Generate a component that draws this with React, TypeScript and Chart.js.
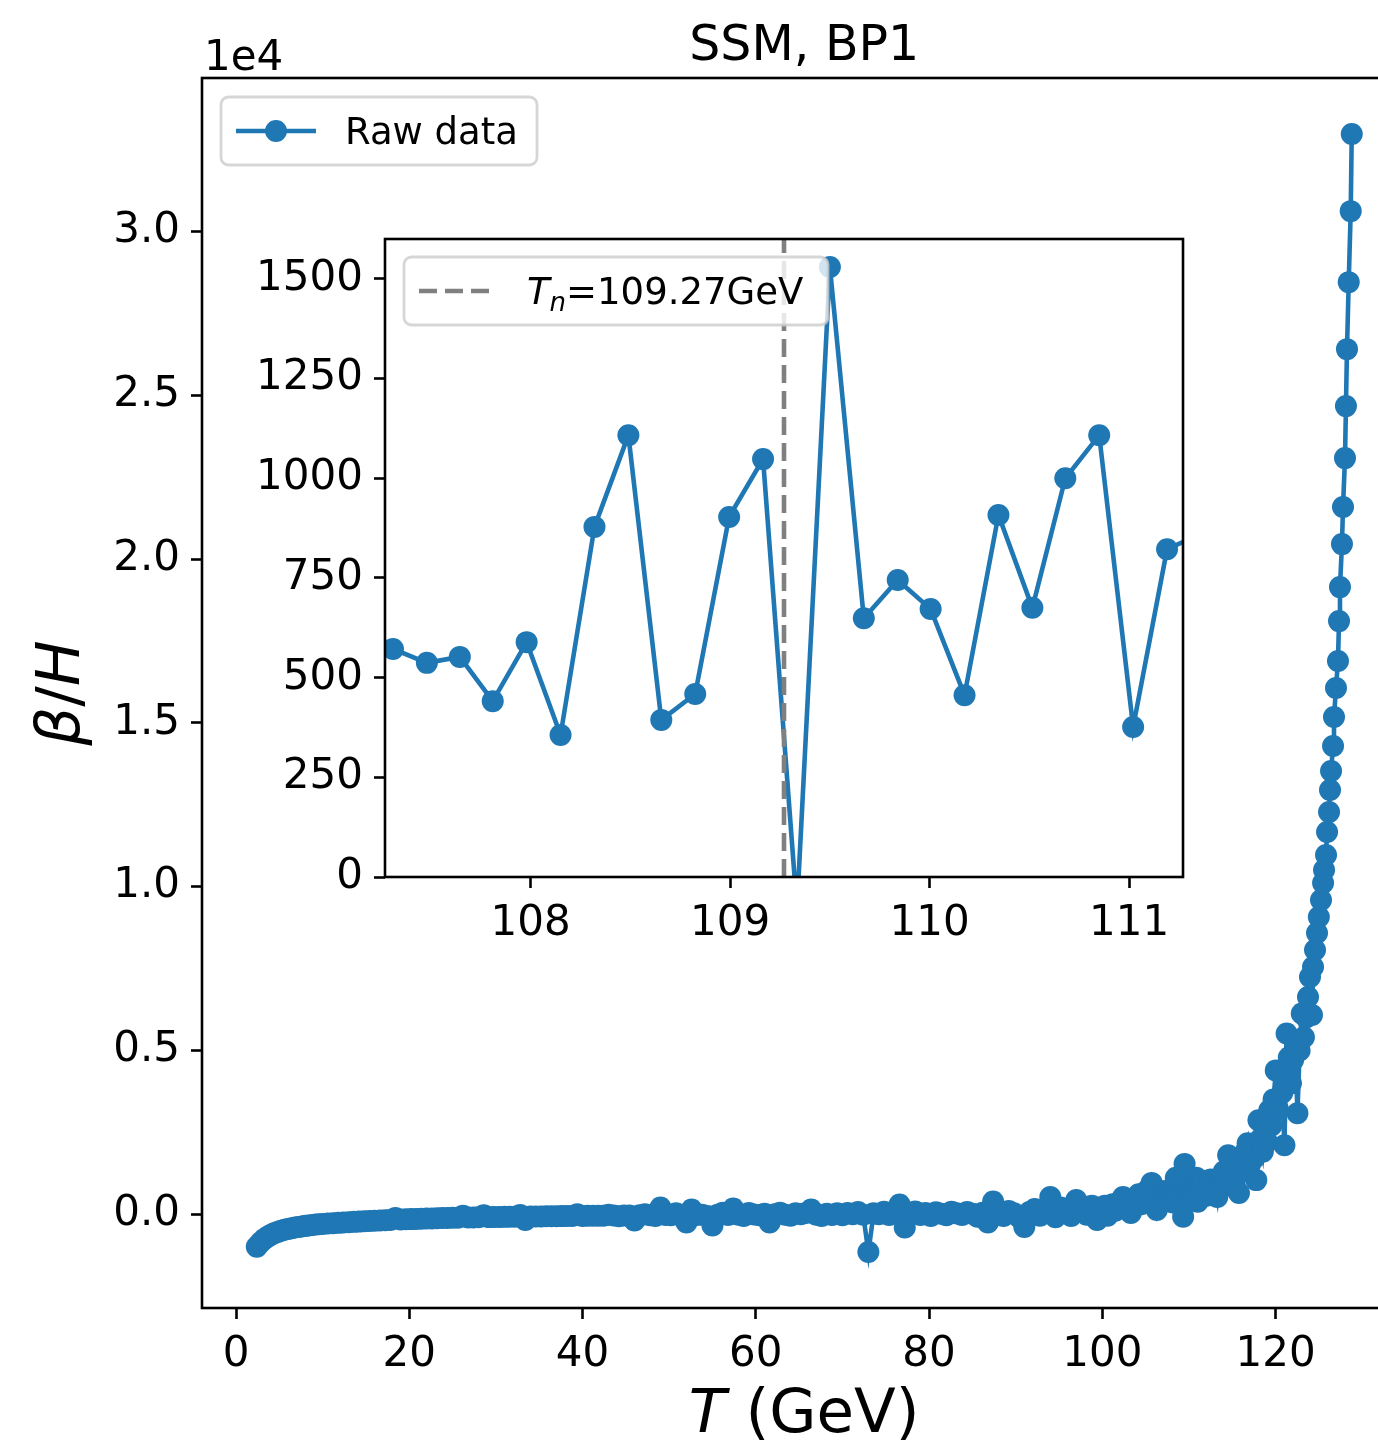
import React, { useEffect, useRef } from "react";
import { Chart, registerables } from "chart.js";

Chart.register(...registerables);

// ---------------- data ----------------
const chartTitle = "SSM, BP1";
const seriesLabel = "Raw data";
const Tn = 109.27;

// low-temperature branch
const tempsRise = [2.4, 2.8, 3.2, 3.6, 4.0, 4.4, 4.8, 5.2, 5.6, 6.0, 6.4, 6.8, 7.2, 7.6, 8.0, 8.4, 8.8, 9.2, 9.6, 10.0];
const betaRise = [-1000, -880, -780, -705, -640, -590, -548, -512, -480, -455, -432, -412, -394, -378, -362, -348, -335, -323, -312, -302];

// plateau
const tempsPlateau = [
  10.6, 11.2, 11.8, 12.4, 13.0, 13.6, 14.2, 14.8, 15.4, 16.0,
  16.6, 17.2, 17.8, 18.4, 19.0, 19.6, 20.2, 20.8, 21.4, 22.0,
  22.6, 23.2, 23.8, 24.4, 25.0, 25.6, 26.2, 26.8, 27.4, 28.0,
  28.6, 29.2, 29.8, 30.4, 31.0, 31.6, 32.2, 32.8, 33.4, 34.0,
  34.6, 35.2, 35.8, 36.4, 37.0, 37.6, 38.2, 38.8, 39.4, 40.0,
  40.6, 41.2, 41.8, 42.4, 43.0, 43.6, 44.2, 44.8, 45.4, 46.0,
  46.6, 47.2, 47.8, 48.4, 49.0, 49.6, 50.2, 50.8, 51.4, 52.0,
  52.6, 53.2, 53.8, 54.4, 55.0, 55.6, 56.2, 56.8, 57.4, 58.0,
  58.6, 59.2, 59.8, 60.4, 61.0, 61.6, 62.2, 62.8, 63.4, 64.0,
  64.6, 65.2, 65.8, 66.4, 67.0, 67.6, 68.2, 68.8, 69.4, 70.0,
  70.6, 71.2, 71.8, 72.4, 73.0, 73.6, 74.2, 74.8, 75.4, 76.0,
  76.6, 77.2, 77.8, 78.4, 79.0, 79.6, 80.2, 80.8, 81.4, 82.0,
  82.6, 83.2, 83.8, 84.4, 85.0, 85.6, 86.2, 86.8, 87.4, 88.0,
  88.6, 89.2, 89.8, 90.4, 91.0, 91.6, 92.2, 92.8, 93.4, 94.0,
  94.6, 95.2, 95.8, 96.4, 97.0, 97.6, 98.2, 98.8, 99.4,
];
const betaPlateau = [
  -290, -280, -270, -258, -250, -240, -232, -222, -215, -206,
  -198, -190, -184, -120, -170, -162, -156, -150, -146, -140,
  -134, -128, -124, -120, -116, -112, -50, -106, -103, -100,
  -40, -95, -92, -90, -87, -85, -82, -30, -180, -78,
  -75, -73, -70, -68, -66, -64, -62, -60, -10, -58,
  -56, -54, -52, -50, -20, -48, -70, -44, -42, -198,
  -40, -10, -38, -60, 198, -30, -35, 20, -50, -259,
  137, -30, -20, -60, -350, -25, 40, -30, 167, -20,
  -60, 30, -15, -40, 10, -259, -10, 40, -20, -50,
  20, -10, 30, 137, -20, -60, 10, -30, 20, -40,
  30, -10, 60, -20, -1163, 20, -10, 70, -30, 40,
  289, -411, 20, 80, -30, 30, -60, 50, 10, -40,
  70, 20, -30, 60, 10, -80, 40, -259, 380, 30,
  -60, 90, 20, -100, -396, 60, 150, -50, 100, 518,
  -100, 200, 50, -60, 426, 120, -20, 250, -183,
];

// approach to the nucleation region
const tempsApproach = [100.0, 100.3, 100.6, 100.9, 101.2, 101.5, 101.8, 102.1, 102.4, 102.7, 103.0, 103.3, 103.6, 103.9, 104.2, 104.5, 104.8, 105.1, 105.4, 105.7, 106.0, 106.3, 106.6, 106.9, 107.14];
const betaApproach = [80, 250, -50, 150, 300, 100, 200, 400, 518, 250, 150, 30, 200, 350, 600, 300, 450, 700, 500, 950, 600, 122, 500, 700, 650];

// around Tn (the inset window)
const tempsNucleation = [107.31, 107.48, 107.645, 107.81, 107.98, 108.15, 108.32, 108.49, 108.655, 108.825, 108.995, 109.165, 109.335, 109.5, 109.67, 109.84, 110.005, 110.175, 110.345, 110.515, 110.68, 110.85, 111.02, 111.19, 111.36];
const betaNucleation = [572, 537, 552, 441, 589, 356, 878, 1108, 394, 459, 903, 1048, -80, 1530, 649, 745, 672, 456, 908, 675, 1000, 1108, 376, 822, 860];

// noisy growth
const tempsGrowth = [
  111.53, 111.78, 112.03, 112.28, 112.53, 112.78, 113.03, 113.28, 113.53, 113.78,
  114.03, 114.28, 114.53, 114.78, 115.03, 115.28, 115.53, 115.78, 116.03, 116.28,
  116.53, 116.78, 117.03, 117.28, 117.53, 117.78, 118.03, 118.28, 118.53, 118.78,
  119.03, 119.28, 119.53, 119.78, 120.03, 120.28, 120.53, 120.78, 121.03, 121.28,
  121.53, 121.78, 122.03, 122.28, 122.53, 122.78, 123.03, 123.28, 123.53,
];
const betaGrowth = [
  700, 1000, 560, 820, 1050, 650, 900, 518, 1100, 800,
  1300, 950, 1797, 1100, 1400, 900, 1500, 639, 1700, 1300,
  1900, 2162, 1500, 2000, 1700, 1035, 2862, 2300, 1900, 2600,
  2200, 3167, 2700, 3500, 4385, 3200, 4324, 3700, 2101, 5512,
  4781, 3989, 4700, 5200, 3075, 4994, 6120, 5400, 6000,
];

// steep rise
const tempsSteep = [
  123.75, 123.98, 124.21, 124.33, 124.56, 124.79, 125.0, 125.25, 125.49, 125.60,
  125.83, 125.95, 126.18, 126.29, 126.41, 126.64, 126.75, 126.98, 127.21, 127.33,
  127.44, 127.67, 127.79, 128.02, 128.13, 128.25, 128.45, 128.68, 128.80,
];
const betaSteep = [
  6625, 7236, 6075, 7541, 8060, 8579, 9067, 9586, 10105, 10502,
  10960, 11662, 12273, 12945, 13525, 14288, 15173, 16059, 16883, 18104,
  19142, 20455, 21585, 23081, 24668, 26408, 28454, 30622, 32980,
];

const temps = [...tempsRise, ...tempsPlateau, ...tempsApproach, ...tempsNucleation, ...tempsGrowth, ...tempsSteep];
const betaH = [...betaRise, ...betaPlateau, ...betaApproach, ...betaNucleation, ...betaGrowth, ...betaSteep];

// axes
const mainXTicks = [0, 20, 40, 60, 80, 100, 120];
const mainYTicks = [0, 5000, 10000, 15000, 20000, 25000, 30000];
const mainXRange = [-3.925, 135.12];
const mainYRange = [-2870, 34687];
const insetXTicks = [108, 109, 110, 111];
const insetYTicks = [0, 250, 500, 750, 1000, 1250, 1500];
const insetXRange = [Tn - 2, Tn + 2];
const insetYRange = [0, 1600];

// ---------------- styling ----------------
const FONT = "'DejaVu Sans', 'Liberation Sans', sans-serif";
const BLUE = "#1f77b4";
const GRAY = "#808080";
const TICK_SIZE = 42;
const LEGEND_SIZE = 37;
const TITLE_SIZE = 49;
const LABEL_SIZE = 61;
const LINE_W = 4.6;
const MARKER_R = 11;
const SPINE_W = 2.6;

const MAIN_W = 1440;
const MAIN_H = 1441;
const MAIN_AREA = { left: 202, top: 78, right: 1406.5, bottom: 1308 };

const INSET_LEFT = 230;
const INSET_TOP = 190;
const INSET_W = 960;
const INSET_H = 760;
const INSET_AREA = { left: 385, top: 239, right: 1183, bottom: 877 };

type Run = { text: string; italic?: boolean; size: number; dy?: number };

function fontOf(r: Run) {
  return `${r.italic ? "italic " : ""}${r.size}px ${FONT}`;
}

function drawRuns(ctx: CanvasRenderingContext2D, runs: Run[], x: number, y: number, align: "left" | "center") {
  const widths = runs.map((r) => {
    ctx.font = fontOf(r);
    return ctx.measureText(r.text).width;
  });
  const total = widths.reduce((a, b) => a + b, 0);
  let cx = align === "center" ? x - total / 2 : x;
  ctx.textAlign = "left";
  ctx.textBaseline = "alphabetic";
  runs.forEach((r, i) => {
    ctx.font = fontOf(r);
    ctx.fillText(r.text, cx, y + (r.dy || 0));
    cx += widths[i];
  });
}

function roundRectPath(ctx: CanvasRenderingContext2D, x: number, y: number, w: number, h: number, r: number) {
  ctx.beginPath();
  ctx.moveTo(x + r, y);
  ctx.lineTo(x + w - r, y);
  ctx.arcTo(x + w, y, x + w, y + r, r);
  ctx.lineTo(x + w, y + h - r);
  ctx.arcTo(x + w, y + h, x + w - r, y + h, r);
  ctx.lineTo(x + r, y + h);
  ctx.arcTo(x, y + h, x, y + h - r, r);
  ctx.lineTo(x, y + r);
  ctx.arcTo(x, y, x + r, y, r);
  ctx.closePath();
}

function legendFrame(ctx: CanvasRenderingContext2D, x: number, y: number, w: number, h: number) {
  roundRectPath(ctx, x, y, w, h, 7.4);
  ctx.fillStyle = "rgba(255,255,255,0.8)";
  ctx.fill();
  ctx.strokeStyle = "rgba(204,204,204,0.8)";
  ctx.lineWidth = 2.8;
  ctx.stroke();
}

function makeScale(range: number[], ticks: number[], fmt: (v: number) => string, size: number, isX: boolean) {
  return {
    type: "linear" as const,
    min: range[0],
    max: range[1],
    afterBuildTicks: (s: any) => {
      s.ticks = ticks.map((v) => ({ value: v }));
    },
    afterFit: (s: any) => {
      if (isX) {
        s.height = size;
        s.paddingLeft = 0;
        s.paddingRight = 0;
      } else {
        s.width = size;
        s.paddingTop = 0;
        s.paddingBottom = 0;
      }
    },
    ticks: {
      font: { family: FONT, size: TICK_SIZE },
      color: "#000",
      padding: 11,
      maxRotation: 0,
      minRotation: 0,
      autoSkip: false,
      callback: (v: any) => fmt(Number(v)),
    },
    grid: { drawOnChartArea: false, drawTicks: true, tickLength: 11, tickWidth: SPINE_W, tickColor: "#000" },
    border: { display: false },
  };
}

export default function App() {
  const mainRef = useRef<HTMLCanvasElement>(null);
  const insetRef = useRef<HTMLCanvasElement>(null);

  useEffect(() => {
    const points = temps.map((t, i) => ({ x: t, y: betaH[i] }));

    const mainDecor = {
      id: "mainDecor",
      beforeDraw(chart: any) {
        const ctx = chart.ctx as CanvasRenderingContext2D;
        ctx.save();
        ctx.fillStyle = "#fff";
        ctx.fillRect(0, 0, chart.width, chart.height);
        ctx.restore();
      },
      afterDraw(chart: any) {
        const ctx = chart.ctx as CanvasRenderingContext2D;
        const a = chart.chartArea;
        ctx.save();
        ctx.strokeStyle = "#000";
        ctx.lineWidth = SPINE_W;
        ctx.strokeRect(a.left, a.top, a.right - a.left, a.bottom - a.top);
        ctx.fillStyle = "#000";
        const cx = (a.left + a.right) / 2;
        drawRuns(ctx, [{ text: chartTitle, size: TITLE_SIZE }], cx, a.top - 18, "center");
        drawRuns(ctx, [{ text: "1e4", size: TICK_SIZE }], a.left + 2, a.top - 8, "left");
        drawRuns(ctx, [{ text: "T", italic: true, size: LABEL_SIZE }, { text: " (GeV)", size: LABEL_SIZE }], cx, 1432, "center");
        ctx.save();
        ctx.translate(79, (a.top + a.bottom) / 2);
        ctx.rotate(-Math.PI / 2);
        drawRuns(
          ctx,
          [
            { text: "β", italic: true, size: LABEL_SIZE },
            { text: "/", size: LABEL_SIZE },
            { text: "H", italic: true, size: LABEL_SIZE },
          ],
          0,
          0,
          "center"
        );
        ctx.restore();
        // legend
        legendFrame(ctx, 221, 97, 316, 68);
        ctx.strokeStyle = BLUE;
        ctx.lineWidth = LINE_W;
        ctx.beginPath();
        ctx.moveTo(236, 131);
        ctx.lineTo(316, 131);
        ctx.stroke();
        ctx.fillStyle = BLUE;
        ctx.beginPath();
        ctx.arc(276, 131, MARKER_R, 0, Math.PI * 2);
        ctx.fill();
        ctx.fillStyle = "#000";
        drawRuns(ctx, [{ text: seriesLabel, size: LEGEND_SIZE }], 345, 144, "left");
        ctx.restore();
      },
    };

    const main = new Chart(mainRef.current as HTMLCanvasElement, {
      type: "line",
      data: {
        datasets: [
          {
            label: seriesLabel,
            data: points,
            borderColor: BLUE,
            backgroundColor: BLUE,
            borderWidth: LINE_W,
            pointRadius: MARKER_R,
            pointHoverRadius: MARKER_R,
            pointBackgroundColor: BLUE,
            pointBorderWidth: 0,
            tension: 0,
            clip: 0,
          } as any,
        ],
      },
      options: {
        responsive: false,
        animation: false,
        devicePixelRatio: 1,
        events: [],
        layout: {
          autoPadding: false,
          padding: { left: 0, top: MAIN_AREA.top, right: MAIN_W - MAIN_AREA.right, bottom: 0 },
        },
        plugins: { legend: { display: false }, tooltip: { enabled: false }, title: { display: false } },
        scales: {
          x: makeScale(mainXRange, mainXTicks, (v) => String(v), MAIN_H - MAIN_AREA.bottom, true),
          y: makeScale(mainYRange, mainYTicks, (v) => (v / 1e4).toFixed(1), MAIN_AREA.left, false),
        } as any,
      } as any,
      plugins: [mainDecor as any],
    });

    const insetDecor = {
      id: "insetDecor",
      beforeDraw(chart: any) {
        const ctx = chart.ctx as CanvasRenderingContext2D;
        const a = chart.chartArea;
        ctx.save();
        ctx.fillStyle = "#fff";
        ctx.fillRect(a.left, a.top, a.right - a.left, a.bottom - a.top);
        ctx.restore();
      },
      afterDraw(chart: any) {
        const ctx = chart.ctx as CanvasRenderingContext2D;
        const a = chart.chartArea;
        ctx.save();
        ctx.strokeStyle = "#000";
        ctx.lineWidth = SPINE_W;
        ctx.strokeRect(a.left, a.top, a.right - a.left, a.bottom - a.top);
        // legend (coordinates relative to the inset canvas)
        const ox = -INSET_LEFT;
        const oy = -INSET_TOP;
        legendFrame(ctx, 404 + ox, 257 + oy, 424, 68);
        ctx.strokeStyle = GRAY;
        ctx.lineWidth = LINE_W;
        ctx.setLineDash([18, 8]);
        ctx.beginPath();
        ctx.moveTo(419 + ox, 291 + oy);
        ctx.lineTo(497 + ox, 291 + oy);
        ctx.stroke();
        ctx.setLineDash([]);
        ctx.fillStyle = "#000";
        drawRuns(
          ctx,
          [
            { text: "T", italic: true, size: LEGEND_SIZE },
            { text: "n", italic: true, size: 26, dy: 7 },
            { text: "=" + Tn.toFixed(2) + "GeV", size: LEGEND_SIZE },
          ],
          527 + ox,
          304 + oy,
          "left"
        );
        ctx.restore();
      },
    };

    const inset = new Chart(insetRef.current as HTMLCanvasElement, {
      type: "line",
      data: {
        datasets: [
          {
            label: "Tn",
            data: [
              { x: Tn, y: insetYRange[0] },
              { x: Tn, y: insetYRange[1] },
            ],
            borderColor: GRAY,
            borderWidth: LINE_W,
            borderDash: [18, 8],
            pointRadius: 0,
            tension: 0,
            clip: 0,
          } as any,
          {
            label: seriesLabel,
            data: points,
            borderColor: BLUE,
            backgroundColor: BLUE,
            borderWidth: LINE_W,
            pointRadius: MARKER_R,
            pointHoverRadius: MARKER_R,
            pointBackgroundColor: BLUE,
            pointBorderWidth: 0,
            tension: 0,
            clip: 0,
          } as any,
        ],
      },
      options: {
        responsive: false,
        animation: false,
        devicePixelRatio: 1,
        events: [],
        layout: {
          autoPadding: false,
          padding: {
            left: 0,
            top: INSET_AREA.top - INSET_TOP,
            right: INSET_W - (INSET_AREA.right - INSET_LEFT),
            bottom: 0,
          },
        },
        plugins: { legend: { display: false }, tooltip: { enabled: false }, title: { display: false } },
        scales: {
          x: makeScale(insetXRange, insetXTicks, (v) => String(v), INSET_H - (INSET_AREA.bottom - INSET_TOP), true),
          y: makeScale(insetYRange, insetYTicks, (v) => String(v), INSET_AREA.left - INSET_LEFT, false),
        } as any,
      } as any,
      plugins: [insetDecor as any],
    });

    return () => {
      main.destroy();
      inset.destroy();
    };
  }, []);

  return (
    <div
      style={{
        position: "fixed",
        left: 0,
        top: 0,
        width: 1378,
        height: 1441,
        overflow: "hidden",
        background: "#fff",
      }}
    >
      <canvas
        ref={mainRef}
        width={MAIN_W}
        height={MAIN_H}
        style={{ position: "absolute", left: 0, top: 0, width: MAIN_W, height: MAIN_H }}
      />
      <canvas
        ref={insetRef}
        width={INSET_W}
        height={INSET_H}
        style={{ position: "absolute", left: INSET_LEFT, top: INSET_TOP, width: INSET_W, height: INSET_H }}
      />
    </div>
  );
}
